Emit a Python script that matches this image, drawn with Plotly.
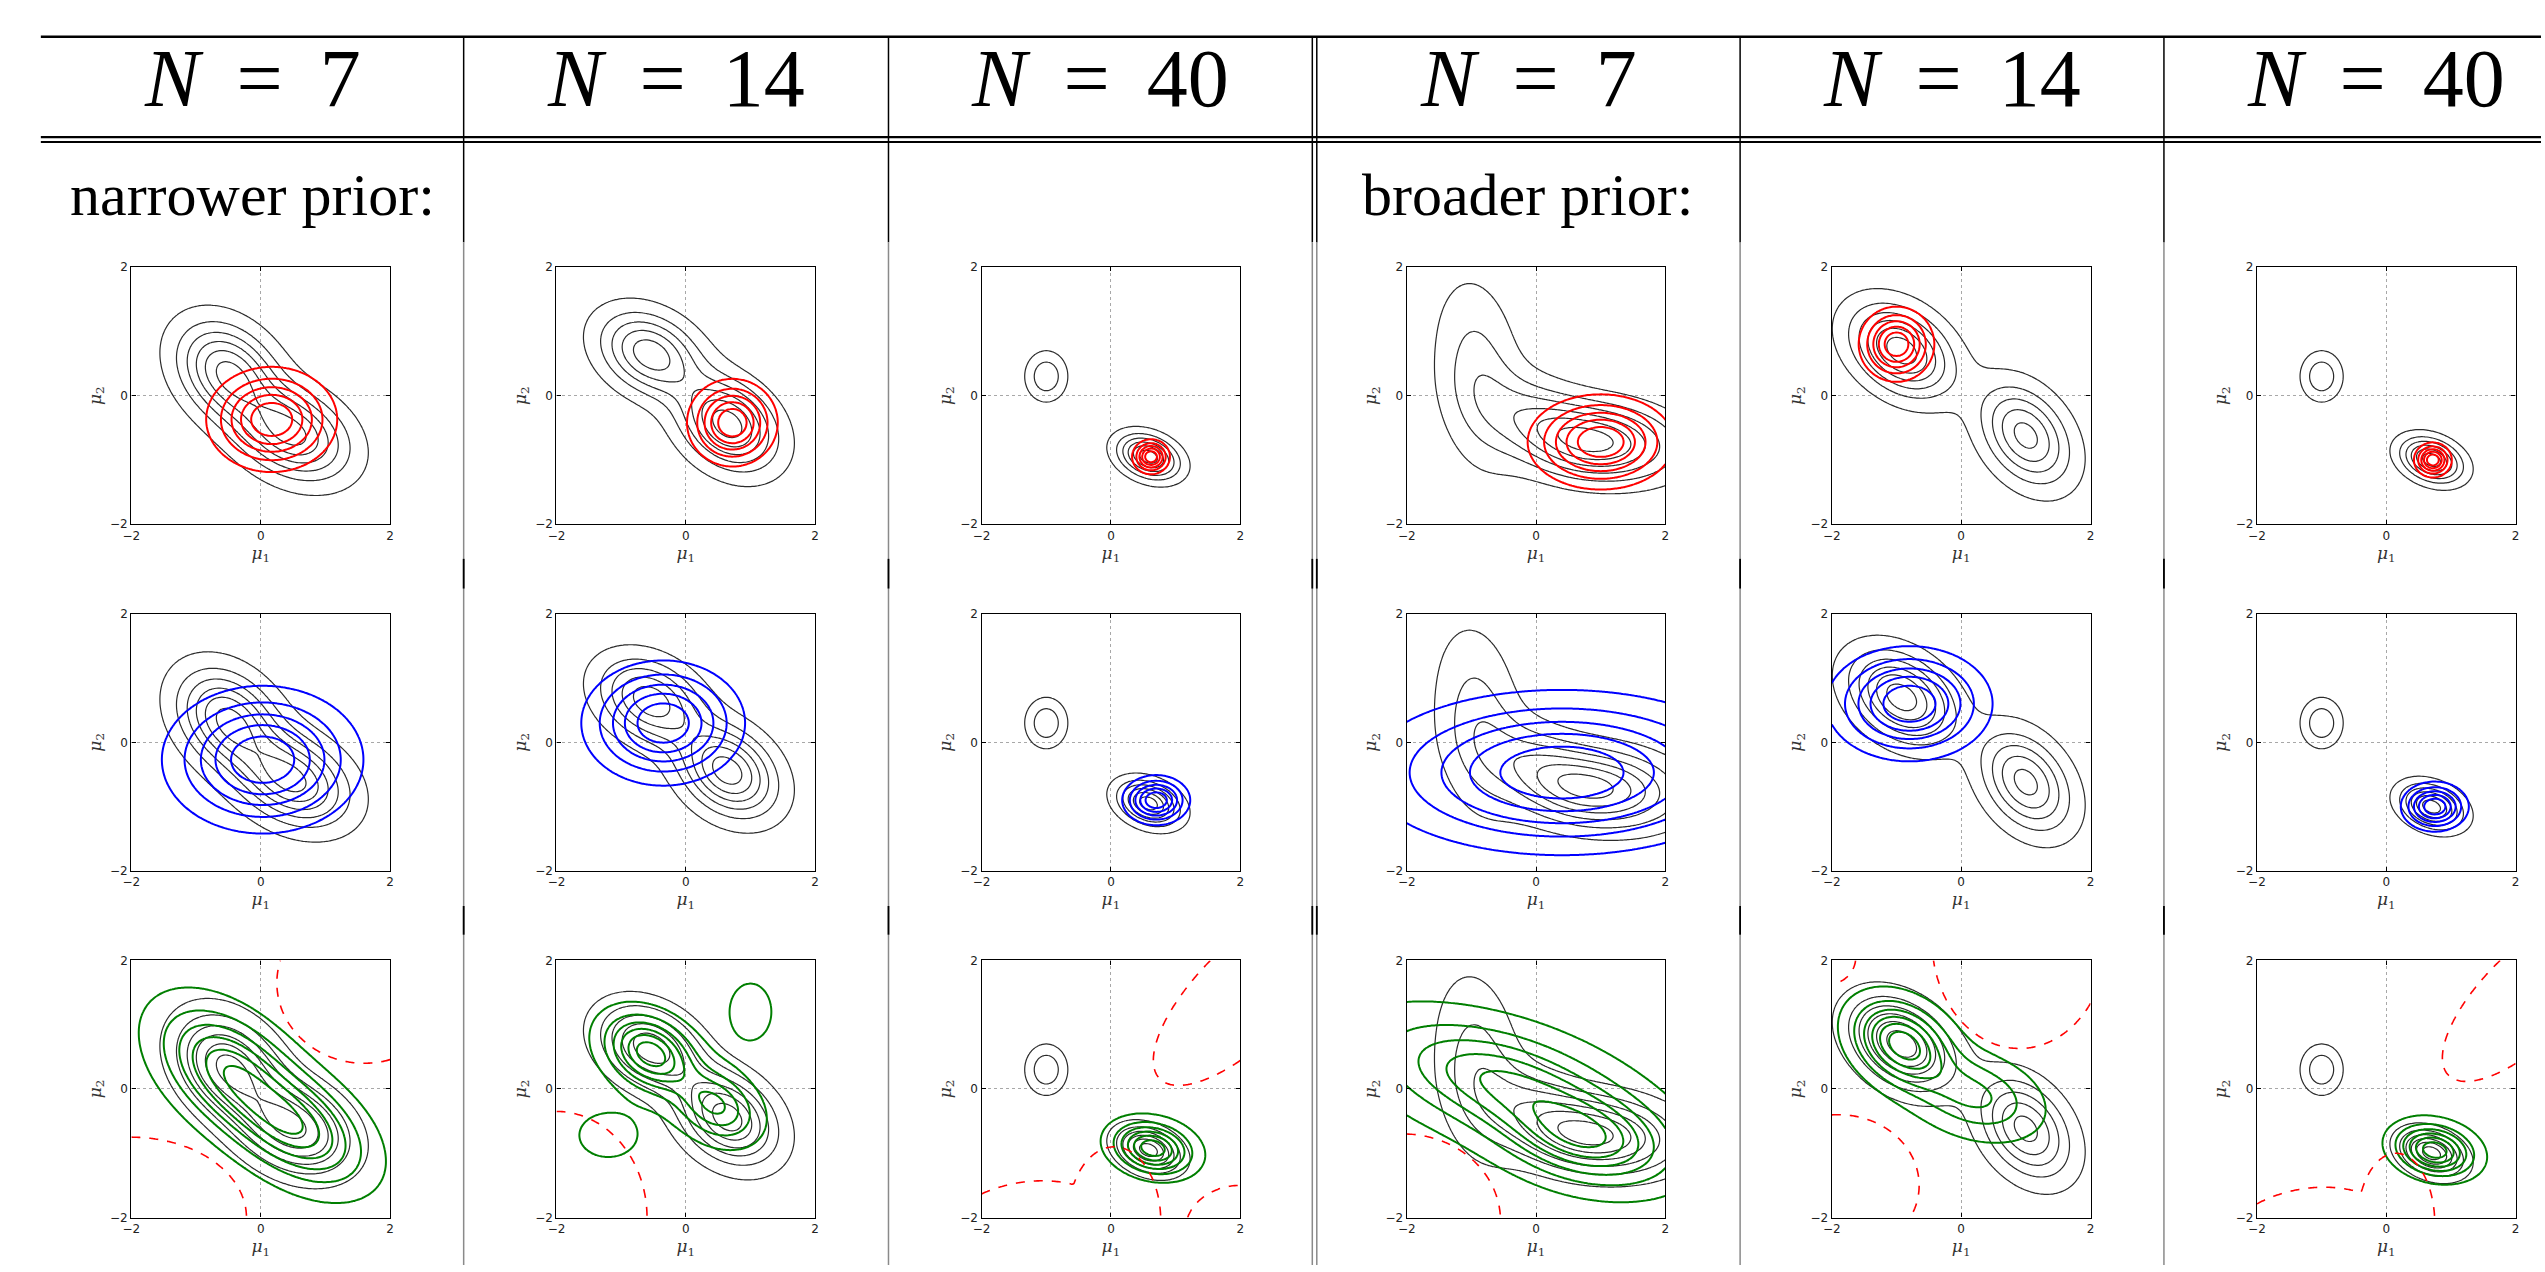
import numpy as np
import plotly.graph_objects as go

W, H = 2545, 1272

HEADERS = ["N = 7", "N = 14", "N = 40", "N = 7", "N = 14", "N = 40"]
PRIOR_LABELS = {0: "narrower prior:", 3: "broader prior:"}
TICK_VALS = [-2, 0, 2]
TICK_TEXT = ["\u22122", "0", "2"]

# exact posterior per column: components (weight, mean1, mean2, sd1, sd2, corr)
exact_post = [
    [(1.0, -0.50, 0.35, 0.50, 0.50, -0.30), (1.0, 0.50, -0.60, 0.55, 0.45, -0.30)],
    [(0.85, -0.55, 0.65, 0.50, 0.42, -0.30), (1.0, 0.65, -0.45, 0.48, 0.45, -0.30)],
    [(0.40, -1.00, 0.30, 0.20, 0.24, 0.0), (1.0, 0.58, -0.95, 0.30, 0.22, -0.30)],
    [(0.38, -0.90, 0.35, 0.42, 0.90, -0.20), (0.45, 0.00, -0.35, 0.60, 0.45, -0.40),
     (1.0, 1.00, -0.72, 0.75, 0.38, -0.15)],
    [(1.0, -0.92, 0.70, 0.50, 0.45, -0.35), (0.80, 1.00, -0.62, 0.45, 0.50, -0.35)],
    [(0.40, -1.00, 0.30, 0.20, 0.24, 0.0), (1.0, 0.70, -1.00, 0.30, 0.22, -0.30)],
]
# first approximation (red, row 1): (mean1, mean2, sd1, sd2, corr)
red_approx = [
    (0.17, -0.37, 0.52, 0.42, 0.0),
    (0.72, -0.42, 0.36, 0.35, 0.0),
    (0.62, -0.95, 0.15, 0.14, 0.0),
    (1.00, -0.72, 0.58, 0.38, 0.0),
    (-1.00, 0.80, 0.30, 0.30, 0.0),
    (0.72, -1.00, 0.15, 0.14, 0.0),
]
# second approximation (blue, row 2)
blue_approx = [
    (0.03, -0.27, 0.80, 0.59, 0.0),
    (-0.35, 0.30, 0.65, 0.50, 0.0),
    (0.70, -0.90, 0.27, 0.20, 0.0),
    (0.40, -0.47, 1.56, 0.66, 0.0),
    (-0.80, 0.60, 0.66, 0.46, 0.0),
    (0.75, -1.00, 0.27, 0.20, 0.0),
]
# third approximation (green, row 3): components (weight, mean1, mean2, sd1, sd2, corr)
green_approx = [
    [(1.0, -0.50, 0.30, 0.65, 0.60, -0.45), (1.0, 0.55, -0.60, 0.65, 0.55, -0.45)],
    [(1.0, -0.55, 0.55, 0.42, 0.36, -0.30), (0.6, 0.45, -0.25, 0.40, 0.35, -0.30),
     (0.13, 1.00, 1.20, 0.33, 0.45, 0.0), (0.12, -1.20, -0.72, 0.50, 0.38, 0.0)],
    [(1.0, 0.65, -0.92, 0.36, 0.24, -0.20)],
    [(1.0, -0.50, 0.10, 1.20, 0.60, -0.50), (1.0, 0.80, -0.80, 0.80, 0.45, -0.30)],
    [(1.0, -0.90, 0.70, 0.45, 0.40, -0.30), (0.45, 0.20, -0.10, 0.60, 0.40, -0.30)],
    [(1.0, 0.75, -0.95, 0.36, 0.24, -0.20)],
]
# regions where the third approximation becomes negative (red dashed boundary):
# ellipses (centre1, centre2, semi-axis1, semi-axis2, angle in degrees)
negative_regions = [
    [(-2.0, -2.0, 1.78, 1.25, 0), (1.6, 1.65, 1.35, 1.25, 0)],
    [(-2.0, -2.0, 1.4, 1.65, 0)],
    [(2.1, 1.5, 1.9, 0.75, 45), (-1.3, -2.35, 1.45, 0.9, 10), (0.05, -2.05, 0.72, 1.15, 0),
     (2.0, -2.2, 0.85, 0.7, 0)],
    [(-2.05, -2.05, 1.5, 1.35, 0)],
    [(-2.05, 2.05, 0.42, 0.42, 0), (0.9, 2.3, 1.35, 1.67, 0), (-1.9, -1.5, 1.25, 1.1, 0)],
    [(2.2, 1.45, 1.75, 0.7, 45), (-1.2, -2.4, 1.4, 0.85, 10), (0.15, -2.1, 0.6, 1.1, 0)],
]

EXACT_LEVELS = (0.10, 0.90, 0.16)
GAUSS_LEVELS = (0.15, 0.83, 0.17)
GREEN_LEVELS = (0.08, 0.88, 0.16)

# ---------------------------------------------------------------- geometry (pixels)
BOX = 260
COL_LEFT = [123 + 427.3 * c for c in range(6)]
ROW_TOP = [263, 613.5, 964]
COL_LINES = [457, 884, 1310, 1314.5, 1740, 2166]
COL_CENTERS = [244.5, 670.5, 1097, 1527, 1953, 2379]

g = np.linspace(-2, 2, 141)
X, Y = np.meshgrid(g, g)


def gauss(mx, my, sx, sy, rho):
    dx = (X - mx) / sx
    dy = (Y - my) / sy
    q = (dx * dx - 2 * rho * dx * dy + dy * dy) / (1 - rho * rho)
    return np.exp(-0.5 * q)


def mixture(comps):
    z = np.zeros_like(X)
    for w, mx, my, sx, sy, rho in comps:
        z += w * gauss(mx, my, sx, sy, rho)
    return z / z.max()


def region_field(ells):
    z = np.zeros_like(X)
    for cx, cy, ax, ay, ang in ells:
        a = np.deg2rad(ang)
        u = (X - cx) * np.cos(a) + (Y - cy) * np.sin(a)
        v = -(X - cx) * np.sin(a) + (Y - cy) * np.cos(a)
        z = np.maximum(z, np.exp(-0.5 * ((u / ax) ** 2 + (v / ay) ** 2)))
    return z


def contour(idx, z, levels, color, width, dash="solid"):
    s, e, d = levels
    return go.Contour(
        x=g, y=g, z=np.round(z, 4), xaxis=f"x{idx}", yaxis=f"y{idx}",
        autocontour=False,
        contours=dict(coloring="lines", start=s, end=e, size=d, showlabels=False),
        colorscale=[[0, color], [1, color]], showscale=False,
        line=dict(width=width, dash=dash, smoothing=1), hoverinfo="skip",
    )


fig = go.Figure()
layout = {}
for r in range(3):
    for c in range(6):
        idx = r * 6 + c + 1
        fig.add_trace(contour(idx, mixture(exact_post[c]), EXACT_LEVELS, "#2b2b2b", 1.2))
        if r == 0:
            fig.add_trace(contour(idx, gauss(*red_approx[c]), GAUSS_LEVELS, "#ff0000", 2))
        elif r == 1:
            fig.add_trace(contour(idx, gauss(*blue_approx[c]), GAUSS_LEVELS, "#0000ff", 2))
        else:
            fig.add_trace(contour(idx, mixture(green_approx[c]), GREEN_LEVELS, "#007f00", 2))
            fig.add_trace(contour(idx, region_field(negative_regions[c]),
                                  (np.exp(-0.5), np.exp(-0.5), 1), "#ff0000", 1.6, "dash"))
        x0 = COL_LEFT[c] / W
        x1 = (COL_LEFT[c] + BOX) / W
        y1 = 1 - ROW_TOP[r] / H
        y0 = 1 - (ROW_TOP[r] + BOX) / H
        common = dict(range=[-2, 2], tickvals=TICK_VALS, ticktext=TICK_TEXT, ticks="inside",
                      ticklen=4, tickwidth=1, tickcolor="black", showline=True,
                      linecolor="black", linewidth=1.4, mirror="ticks", showgrid=True,
                      gridcolor="#a8a8a8", griddash="dot", gridwidth=1, zeroline=False,
                      tickfont=dict(family="DejaVu Sans", size=12, color="#222"),
                      fixedrange=True)
        layout[f"xaxis{idx}"] = dict(
            domain=[x0, x1], anchor=f"y{idx}",
            title=dict(text="<i>\u03bc</i><sub>1</sub>", standoff=0,
                       font=dict(family="DejaVu Serif", size=17, color="#333")),
            **common)
        layout[f"yaxis{idx}"] = dict(
            domain=[y0, y1], anchor=f"x{idx}",
            title=dict(text="<i>\u03bc</i><sub>2</sub>", standoff=4,
                       font=dict(family="DejaVu Serif", size=17, color="#333")),
            **common)

# ---------------------------------------------------------------- table rules
def px(x):
    return x / W


def py(y):
    return 1 - y / H


shapes = []
for yy, wdt in [(30, 2.5), (131.5, 2.2), (136.5, 2.2)]:
    shapes.append(dict(type="line", xref="paper", yref="paper", x0=px(32), x1=1,
                       y0=py(yy), y1=py(yy), line=dict(color="black", width=wdt)))
for xx in COL_LINES:
    shapes.append(dict(type="line", xref="paper", yref="paper", x0=px(xx), x1=px(xx),
                       y0=py(30), y1=py(238), line=dict(color="black", width=1.5)))
    shapes.append(dict(type="line", xref="paper", yref="paper", x0=px(xx), x1=px(xx),
                       y0=py(238), y1=py(H), line=dict(color="#8a8a8a", width=1.5)))
    for a, b in [(558, 588), (909, 938)]:
        shapes.append(dict(type="line", xref="paper", yref="paper", x0=px(xx), x1=px(xx),
                           y0=py(a), y1=py(b), line=dict(color="black", width=1.8)))

annotations = []
for c, txt in enumerate(HEADERS):
    n_part, num = txt.split(" = ")
    annotations.append(dict(
        x=px(COL_CENTERS[c]), y=py(72), xref="paper", yref="paper",
        text=f"<i>{n_part}</i> \u2009=\u2009 {num}", showarrow=False,
        xanchor="center", yanchor="middle",
        font=dict(family="Liberation Serif", size=82, color="black")))
for c, txt in PRIOR_LABELS.items():
    annotations.append(dict(
        x=px(COL_CENTERS[c]), y=py(190), xref="paper", yref="paper",
        text=txt, showarrow=False, xanchor="center", yanchor="middle",
        font=dict(family="Liberation Serif", size=60, color="black")))

fig.update_layout(
    width=W, height=H, autosize=False,
    margin=dict(l=0, r=0, t=0, b=0),
    paper_bgcolor="white", plot_bgcolor="white",
    showlegend=False, shapes=shapes, annotations=annotations,
    **layout,
)

fig.write_html("out.html", include_plotlyjs=True, config={"displayModeBar": False},
               post_script="document.body.style.margin='0';document.body.style.overflow='hidden';")
